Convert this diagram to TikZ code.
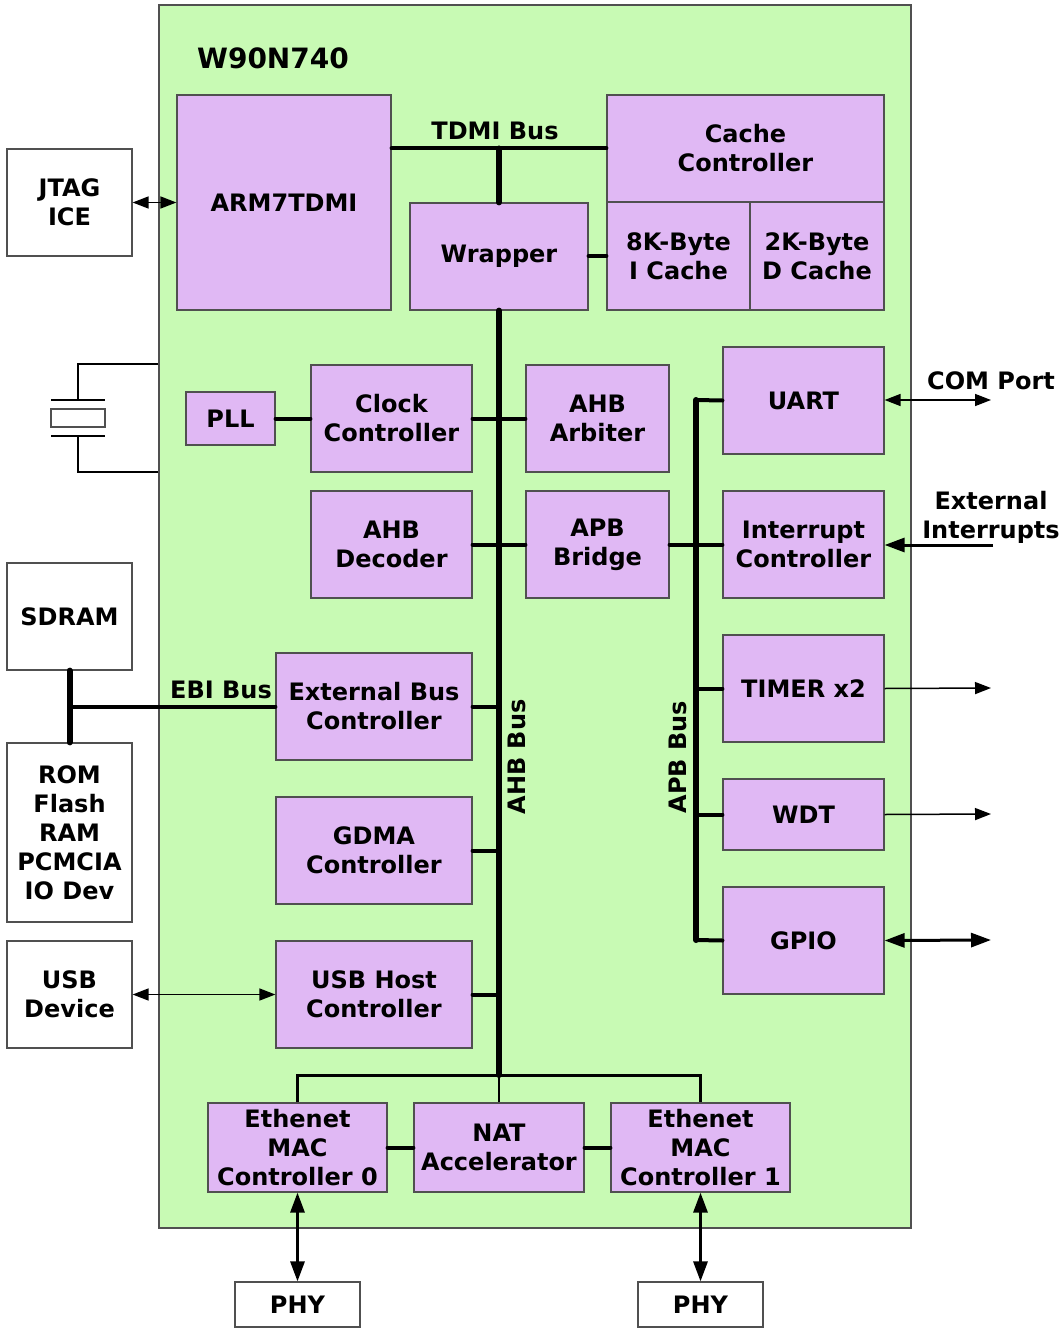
\documentclass[tikz,border=0pt]{standalone}
\usepackage{fontspec}
\setmainfont{DejaVu Sans}
\usetikzlibrary{arrows.meta}
\definecolor{chipgreen}{RGB}{200,250,180}
\definecolor{blkpurple}{RGB}{224,184,244}
\definecolor{edgegray}{RGB}{80,80,80}

\begin{document}
\begin{tikzpicture}[x=1pt,y=-1pt]

\tikzset{chip/.style = {draw=edgegray,fill=chipgreen,line width=1.5pt,inner sep=0pt}}
\tikzset{blk/.style = {draw=edgegray,fill=blkpurple,line width=1.2pt,align=center,inner sep=0pt,
  font=\fontsize{24}{29}\selectfont\bfseries}}
\tikzset{ext/.style = {blk,fill=white}}
\tikzset{lbl/.style = {align=center,inner sep=0pt,font=\fontsize{24}{29}\selectfont\bfseries}}
\tikzset{bus/.style = {line width=6pt,line cap=round}}
\tikzset{stub/.style = {line width=4pt,line cap=round}}
\tikzset{sig/.style = {line width=1.5pt,-{Triangle[length=16pt,width=12pt]}}}
\tikzset{sigb/.style = {line width=1.5pt,{Triangle[length=16pt,width=12pt]}-{Triangle[length=16pt,width=12pt]}}}
\tikzset{sigw/.style = {line width=3pt,{Triangle[length=20pt,width=14pt]}-{Triangle[length=20pt,width=14pt]}}}

\useasboundingbox (0,0) rectangle (1062,1329);

%chip
\node[chip, minimum width=752pt, minimum height=1223pt] (chip) at (535,616.5) {};
\node[lbl, font=\fontsize{28}{30}\selectfont\bfseries] (title) at (273,58) {W90N740};

%cpu part
\node[blk, minimum width=214pt, minimum height=215pt] (arm) at (284,202.5) {ARM7TDMI};
\node[blk, minimum width=277pt, minimum height=107pt] (cache) at (745.5,148.5) {Cache\\Controller};
\node[blk, minimum width=143pt, minimum height=108pt] (icache) at (678.5,256) {8K-Byte\\I Cache};
\node[blk, minimum width=134pt, minimum height=108pt] (dcache) at (817,256) {2K-Byte\\D Cache};
\node[blk, minimum width=178pt, minimum height=107pt] (wrap) at (499,256.5) {Wrapper};
\node[ext, minimum width=125pt, minimum height=107pt] (jtag) at (69.5,202.5) {JTAG\\ICE};

%ahb part
\node[blk, minimum width=89pt, minimum height=53pt] (pll) at (230.5,418.5) {PLL};
\node[blk, minimum width=161pt, minimum height=107pt] (clk) at (391.5,418.5) {Clock\\Controller};
\node[blk, minimum width=143pt, minimum height=107pt] (arb) at (597.5,418.5) {AHB\\Arbiter};
\node[blk, minimum width=161pt, minimum height=107pt] (dec) at (391.5,544.5) {AHB\\Decoder};
\node[blk, minimum width=143pt, minimum height=107pt] (brg) at (597.5,544.5) {APB\\Bridge};
\node[blk, minimum width=196pt, minimum height=107pt] (ebc) at (374,706.5) {External Bus\\Controller};
\node[blk, minimum width=196pt, minimum height=107pt] (gdma) at (374,850.5) {GDMA\\Controller};
\node[blk, minimum width=196pt, minimum height=107pt] (usbh) at (374,994.5) {USB Host\\Controller};

%apb part
\node[blk, minimum width=161pt, minimum height=107pt] (uart) at (803.5,400.5) {UART};
\node[blk, minimum width=161pt, minimum height=107pt] (intc) at (803.5,544.5) {Interrupt\\Controller};
\node[blk, minimum width=161pt, minimum height=107pt] (timer) at (803.5,688.5) {TIMER x2};
\node[blk, minimum width=161pt, minimum height=71pt] (wdt) at (803.5,814.5) {WDT};
\node[blk, minimum width=161pt, minimum height=107pt] (gpio) at (803.5,940.5) {GPIO};

%ethernet part
\node[blk, minimum width=179pt, minimum height=89pt] (mac0) at (297.5,1147.5) {Ethenet\\MAC\\Controller 0};
\node[blk, minimum width=170pt, minimum height=89pt] (nat) at (499,1147.5) {NAT\\Accelerator};
\node[blk, minimum width=179pt, minimum height=89pt] (mac1) at (700.5,1147.5) {Ethenet\\MAC\\Controller 1};

%outside
\node[ext, minimum width=125pt, minimum height=107pt] (sdram) at (69.5,616.5) {SDRAM};
\node[ext, minimum width=125pt, minimum height=179pt] (rom) at (69.5,832.5) {ROM\\Flash\\RAM\\PCMCIA\\IO Dev};
\node[ext, minimum width=125pt, minimum height=107pt] (usbd) at (69.5,994.5) {USB\\Device};
\node[ext, minimum width=125pt, minimum height=45pt] (phy0) at (297.5,1304.5) {PHY};
\node[ext, minimum width=125pt, minimum height=45pt] (phy1) at (700.5,1304.5) {PHY};

%bus ends
\coordinate (ahbbot) at (499,1075);
\coordinate (apbtop) at (696,400);
\coordinate (apbbot) at (696,940);
\coordinate (com) at (991,400);
\coordinate (eint) at (993,545);
\coordinate (tmo) at (991,688);
\coordinate (wdo) at (991,814);
\coordinate (gpo) at (991,940);

%bus labels
\node[lbl] (tdmil) at (495,131) {TDMI Bus};
\node[lbl] (ebil) at (221,690) {EBI Bus};
\node[lbl, rotate=90] (ahbl) at (517,757) {AHB Bus};
\node[lbl, rotate=90] (apbl) at (678,757) {APB Bus};
\node[lbl] (coml) at (991,381) {COM Port};
\node[lbl] (eintl) at (991,517) {External\\Interrupts};

%tdmi bus
\draw[stub] (arm.east |- cache.west) -- (cache.west);
\draw[bus] (wrap.north) -- (wrap.north |- cache.west);
\draw[stub] (wrap.east |- icache.west) -- (icache.west);
\draw[sigb] (jtag.east) -- (arm.west |- jtag.east);

%ahb bus
\draw[bus] (wrap.south) -- (ahbbot);
\draw[stub] (pll.east) -- (clk.west);
\draw[stub] (clk.east) -- (arb.west);
\draw[stub] (dec.east) -- (brg.west);
\draw[stub] (ebc.east) -- (ebc.east -| ahbbot);
\draw[stub] (gdma.east) -- (gdma.east -| ahbbot);
\draw[stub] (usbh.east) -- (usbh.east -| ahbbot);
\draw[sigb] (usbd.east) -- (usbh.west);

%ebi bus
\draw[bus] (sdram.south) -- (rom.north);
\draw[stub] (ebc.west) -- (ebc.west -| sdram.south);

%apb bus
\draw[bus] (apbtop) -- (apbbot);
\draw[stub] (brg.east) -- (intc.west);
\draw[stub] (apbtop) -- (uart.west);
\draw[stub] (timer.west -| apbtop) -- (timer.west);
\draw[stub] (wdt.west -| apbtop) -- (wdt.west);
\draw[stub] (apbbot) -- (gpio.west);
\draw[sigb] (uart.east |- com) -- (com);
\draw[line width=3pt,-{Triangle[length=20pt,width=14pt]}] (eint) -- (eint -| intc.east);
\draw[sig] (timer.east) -- (tmo);
\draw[sig] (wdt.east) -- (wdo);
\draw[sigw] (gpio.east) -- (gpo);

%ethernet
\draw[line width=3pt] (mac0.north) |- (ahbbot) -| (mac1.north);
\draw[line width=2pt] (nat.north) -- (ahbbot);
\draw[stub] (mac0.east) -- (nat.west);
\draw[stub] (nat.east) -- (mac1.west);
\draw[sigw] (mac0.south) -- (phy0.north);
\draw[sigw] (mac1.south) -- (phy1.north);

%crystal
\draw[line width=1.5pt] (chip.west |- 0,364) -- (78,364) -- (78,400);
\draw[line width=1.5pt] (chip.west |- 0,472) -- (78,472) -- (78,436);
\draw[line width=1.5pt] (51,400) -- (105,400);
\draw[line width=1.5pt] (51,436) -- (105,436);
\draw[line width=1.5pt, draw=edgegray] (51,409) rectangle (105,427);

\end{tikzpicture}
\end{document}
